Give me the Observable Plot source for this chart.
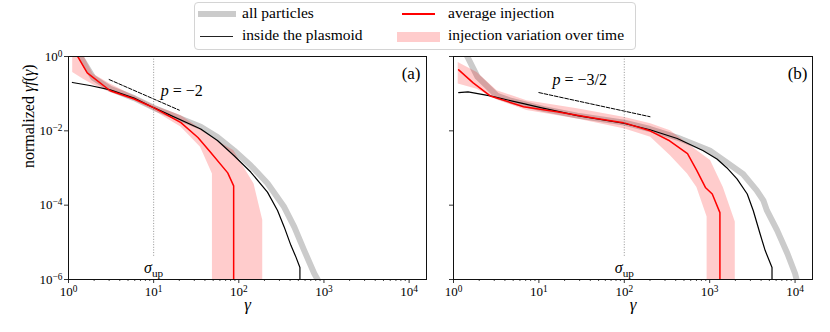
<!DOCTYPE html>
<html><head><meta charset="utf-8">
<script src="https://cdn.jsdelivr.net/npm/d3@7"></script>
<script src="https://cdn.jsdelivr.net/npm/@observablehq/plot@0.6"></script>
<style>
body{margin:0;background:#fff;}
#wrap{position:relative;width:830px;height:332px;font-family:"Liberation Serif","DejaVu Serif",serif;overflow:hidden}
#legend{position:relative;height:44px;z-index:2}
#box{position:absolute;left:194px;top:2px;width:440px;height:46px;border:1px solid #d4d4d4;border-radius:4px;background:rgba(255,255,255,0.85);}
.sw{position:absolute}
.lt{position:absolute;font-family:"Liberation Serif","DejaVu Serif",serif;font-size:15.5px;line-height:1;color:#000;white-space:nowrap}
#row{display:flex;}
#row svg{display:block;font-family:"Liberation Serif","DejaVu Serif",serif !important}
#row svg text, #row svg g{font-family:"Liberation Serif","DejaVu Serif",serif !important}
</style></head><body>
<div id="wrap"><div id="legend"><div id="box"></div></div><div id="row"></div></div>
<script>
// ---------- data ----------
const legendLabels = ["all particles", "inside the plasmoid", "average injection", "injection variation over time"];
const xMajor = [1, 10, 100, 1000, 10000];
const yMajor = [1, 1e-2, 1e-4, 1e-6];
const xDomain = [1, 1.6e4];
const yDomain = [1e-6, 1];
const panelTags = ["(a)", "(b)"];
const panelTagY = 0.34;
const slopeLabels = ["p = −2", "p = −3/2"];
const sigmaUp = [10, 100];
const sigmaLineBottom = 4e-6;
const sigmaLabelY = 2e-6;

// panel (a)
const gammaAllA = [1.15, 1.38, 1.95, 3.09, 5.9, 10, 35.7, 56.1, 88.1, 138, 217, 341, 448, 587, 769, 841, 900];
const fAllA     = [2.5, 1.0, 0.27, 0.135, 0.076, 0.042, 0.0129, 0.00676, 0.00295, 0.00117, 3.9e-4, 8.9e-5, 2.6e-5, 6e-6, 1.45e-6, 1e-6, 6e-7];
const gammaPlasA = [1.11, 1.78, 3.09, 5.9, 10, 35.7, 56.1, 88.1, 138, 217, 285, 341, 409, 469, 522, 522];
const fPlasA     = [0.2, 0.166, 0.126, 0.076, 0.042, 0.0112, 0.0055, 0.00214, 7.8e-4, 2.24e-4, 7.2e-5, 2.6e-5, 8.3e-6, 4e-6, 2.1e-6, 1e-6];
const gammaInjA = [1.2, 1.66, 3.09, 5.9, 10, 20.9, 33.1, 46.8, 74.1, 87, 87];
const fInjA     = [1.3, 0.363, 0.12, 0.072, 0.042, 0.0166, 0.0066, 0.00263, 7.4e-4, 3.3e-4, 1e-6];
const gammaBandA = [1.12, 1.48, 1.95, 3.09, 5.9, 10, 20.9, 35.5, 49, 49, 87, 151, 191, 191];
const loBandA    = [0.37, 0.25, 0.174, 0.107, 0.065, 0.035, 0.0126, 0.00363, 6.9e-4, 1e-6, 1e-6, 1e-6, 1e-6, 1e-6];
const hiBandA    = [2.0, 1.12, 0.34, 0.182, 0.087, 0.048, 0.0257, 0.0112, 0.0063, 0.0063, 0.00295, 3.7e-4, 3.9e-5, 1e-6];
const dashGammaA = [3, 20];
const dashFA     = [0.24, 0.036];
const slopeLabelPosA = [12.1, 0.12];

// panel (b)
const gammaAllB = [1.2, 1.45, 1.91, 3.24, 4.68, 11.2, 28.2, 100, 200, 417, 1000, 1585, 2455, 3548, 4266, 4677, 6166, 8128, 10000, 10965];
const fAllB     = [2.0, 1.0, 0.282, 0.087, 0.0646, 0.039, 0.0257, 0.0166, 0.0112, 0.0066, 0.00295, 1.4e-3, 6.9e-4, 2.5e-4, 1.32e-4, 7.2e-5, 2.1e-5, 5e-6, 1.45e-6, 6.3e-7];
const gammaPlasB = [1.15, 1.48, 2.69, 6.6, 10.5, 28.2, 98, 200, 417, 832, 1216, 1585, 2089, 2754, 3236, 3890, 4467, 5370, 5370];
const fPlasB     = [0.107, 0.112, 0.087, 0.054, 0.042, 0.0257, 0.016, 0.0107, 0.0062, 0.00295, 1.74e-3, 1.02e-3, 5.1e-4, 2.0e-4, 7.2e-5, 1.7e-5, 6e-6, 2.1e-6, 1e-6];
const gammaInjB = [1.15, 1.7, 2.69, 6.6, 16.2, 39.8, 97.7, 200, 339, 550, 708, 891, 1072, 1318, 1318];
const fInjB     = [0.437, 0.195, 0.087, 0.0447, 0.0324, 0.0229, 0.0166, 0.01, 0.0054, 0.00245, 8.5e-4, 3.0e-4, 2.0e-4, 6.3e-5, 1e-6];
const gammaBandB = [1.135, 1.89, 3.24, 7.24, 28.2, 102, 204, 347, 550, 708, 933, 933, 1023, 1445, 1995, 1995];
const hiBandB    = [0.692, 0.372, 0.12, 0.0646, 0.039, 0.0229, 0.0155, 0.01, 0.00457, 0.00295, 0.00186, 0.00186, 0.00158, 3.0e-4, 3.5e-5, 1e-6];
const loBandB    = [0.182, 0.132, 0.0676, 0.0355, 0.0209, 0.0112, 0.00676, 0.00214, 6.9e-4, 3.0e-4, 4.8e-5, 1e-6, 1e-6, 1e-6, 1e-6, 1e-6];
const dashGammaB = [10, 200];
const dashFB     = [0.107, 0.024];
const slopeLabelPosB = [14.4, 0.237];

// ---------- helpers ----------
const pts = (g, f) => g.map((x, i) => ({g: x, f: f[i]}));
const band = (g, lo, hi) => g.map((x, i) => ({g: x, lo: lo[i], hi: hi[i]}));
const minorX = [];
for (let d = 0; d <= 4; d++) for (let k = 2; k <= 9; k++) { const v = k * 10 ** d; if (v < xDomain[1]) minorX.push(v); }
const expFmt = d => "10^" + String(Math.round(Math.log10(d))).replace("-", "−");

const GRAY = "#cbcbcb";
const FONT = '"Liberation Serif", "DejaVu Serif", serif';

function panel(p) {
  return Plot.plot({
    width: p.width, height: 288,
    marginLeft: p.ml, marginRight: p.mr, marginTop: 12, marginBottom: 53,
    x: {type: "log", domain: xDomain, axis: null},
    y: {type: "log", domain: yDomain, axis: null},
    style: {fontFamily: FONT, fontSize: "13px", background: "transparent", overflow: "visible", color: "#000"},
    marks: [
      Plot.line(pts(p.gAll, p.fAll), {x: "g", y: "f", stroke: GRAY, strokeWidth: 6, clip: true}),
      Plot.areaY(band(p.gBand, p.lo, p.hi), {x: "g", y1: "lo", y2: "hi", fill: "red", fillOpacity: 0.2, clip: true}),
      Plot.line(pts(p.gPlas, p.fPlas), {x: "g", y: "f", stroke: "black", strokeWidth: 1.2, clip: true}),
      Plot.line(pts(p.gInj, p.fInj), {x: "g", y: "f", stroke: "red", strokeWidth: 1.5, clip: true}),
      Plot.line(pts(p.dashG, p.dashF), {x: "g", y: "f", stroke: "black", strokeWidth: 1, strokeDasharray: "3.7,1.6"}),
      Plot.ruleX([p.sigma], {x: d => d, y1: yDomain[1], y2: sigmaLineBottom, stroke: "#888", strokeWidth: 0.9, strokeDasharray: "1,1.65"}),
      Plot.text([p.sigma], {x: d => d, y: sigmaLabelY, text: () => "σ_up", fontSize: 16, fill: "#000", lineAnchor: "middle"}),
      Plot.text([p.slopeLabel], {x: p.slopePos[0], y: p.slopePos[1], text: d => d, textAnchor: "start", lineAnchor: "middle", fontSize: 16}),
      Plot.text([p.tag], {x: xDomain[1], y: panelTagY, dx: p.tagDx, textAnchor: "end", lineAnchor: "middle", text: d => d, fontSize: 17}),
      Plot.text(["γ_x"], {frameAnchor: "bottom", dy: 25, lineAnchor: "middle", text: d => d, fontSize: 17}),
      p.ylabel ? Plot.text([p.ylabel], {frameAnchor: "left", dx: -40, rotate: -90, lineAnchor: "middle", text: d => d, fontSize: 16}) : null,
      Plot.axisX(minorX, {tickSize: 2, tickFormat: () => "", label: null, strokeWidth: 0.7}),
      Plot.axisX(xMajor, {tickSize: 4, tickPadding: 3, tickFormat: expFmt, label: null, fontSize: 13, strokeWidth: 0.8}),
      Plot.axisY(yMajor, {tickSize: 4, tickPadding: 2, tickFormat: p.ylabel ? expFmt : () => "", label: null, fontSize: 13, strokeWidth: 0.8}),
      Plot.frame({stroke: "#111", strokeWidth: 1})
    ].filter(Boolean)
  });
}

const NS = "http://www.w3.org/2000/svg";
function add(t, str, style) {
  const ts = document.createElementNS(NS, "tspan");
  if (style) for (const k in style) {
    if (k === "dy" || k === "dx") ts.setAttribute(k, style[k]); else ts.style[k] = style[k];
  }
  ts.textContent = str; t.appendChild(ts); return ts;
}
function rich(svg) {
  svg.querySelectorAll("text").forEach(t => {
    t.style.fontFamily = FONT;
    const s = t.textContent; let m;
    if ((m = s.match(/^10\^(.+)$/))) {
      t.textContent = ""; add(t, "10"); add(t, m[1], {dy: "-0.42em", fontSize: "0.72em"});
    } else if (s === "σ_up") {
      t.textContent = ""; add(t, "σ", {fontStyle: "italic"}); add(t, "up", {dy: "0.3em", fontSize: "0.7em"});
    } else if (s === "γ_x") {
      t.textContent = ""; add(t, "γ", {fontStyle: "italic"});
    } else if (s.startsWith("p = ")) {
      t.textContent = ""; add(t, "p", {fontStyle: "italic"}); add(t, s.slice(1));
    } else if (s.startsWith("normalized")) {
      t.textContent = ""; add(t, "normalized "); add(t, "γf", {fontStyle: "italic"}); add(t, "("); add(t, "γ", {fontStyle: "italic"}); add(t, ")");
    }
  });
  return svg;
}

const row = document.getElementById("row");
row.appendChild(rich(panel({
  width: 430, ml: 68, mr: 4,
  gAll: gammaAllA, fAll: fAllA, gPlas: gammaPlasA, fPlas: fPlasA, gInj: gammaInjA, fInj: fInjA,
  gBand: gammaBandA, lo: loBandA, hi: hiBandA, dashG: dashGammaA, dashF: dashFA,
  sigma: sigmaUp[0], slopeLabel: slopeLabels[0], slopePos: slopeLabelPosA, tag: panelTags[0], tagDx: -6,
  ylabel: "normalized γf(γ)"
})));
row.appendChild(rich(panel({
  width: 400, ml: 23, mr: 18,
  gAll: gammaAllB, fAll: fAllB, gPlas: gammaPlasB, fPlas: fPlasB, gInj: gammaInjB, fInj: fInjB,
  gBand: gammaBandB, lo: loBandB, hi: hiBandB, dashG: dashGammaB, dashF: dashFB,
  sigma: sigmaUp[1], slopeLabel: slopeLabels[1], slopePos: slopeLabelPosB, tag: panelTags[1], tagDx: -5,
  ylabel: null
})));

// ---------- legend ----------
const legend = document.getElementById("legend");
const swatches = [
  {left: 198, top: 11, width: 38, height: 6, background: GRAY},
  {left: 200, top: 36, width: 33, height: 1.3, background: "#222"},
  {left: 402, top: 13.2, width: 33, height: 1.6, background: "red"},
  {left: 397, top: 32, width: 43, height: 10, background: "rgba(255,0,0,0.2)"}
];
const textPos = [[242, 4.5], [242, 27], [448, 4.5], [448, 27]];
swatches.forEach(s => {
  const d = document.createElement("div"); d.className = "sw";
  d.style.left = s.left + "px"; d.style.top = s.top + "px"; d.style.width = s.width + "px"; d.style.height = s.height + "px"; d.style.background = s.background;
  legend.appendChild(d);
});
legendLabels.forEach((l, i) => {
  const d = document.createElement("div"); d.className = "lt";
  d.style.left = textPos[i][0] + "px"; d.style.top = textPos[i][1] + "px"; d.textContent = l;
  legend.appendChild(d);
});
</script>
</body></html>
